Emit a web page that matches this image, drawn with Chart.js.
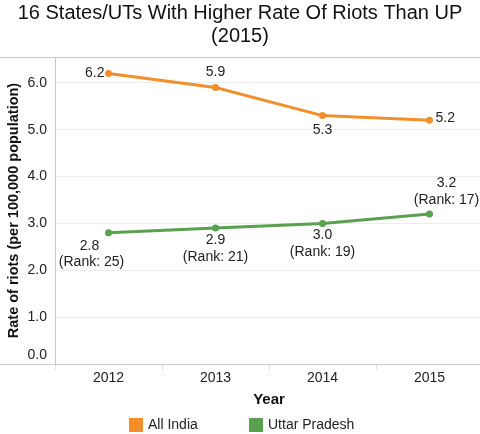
<!DOCTYPE html>
<html>
<head>
    <title>Riots rate: All India vs Uttar Pradesh</title>
    <script src="https://cdn.jsdelivr.net/npm/chart.js"></script>
    <style>
        body { margin: 0; background: #fff; overflow: hidden; }
        /* a bit wider than the window so the plot runs off the right edge like the original */
        #wrap { width: 487px; height: 434px; position: relative; }
    </style>
</head>
<body>
    <div id="wrap"><canvas id="riotChart"></canvas></div>
    <script>
        // data
        var years = ['2012', '2013', '2014', '2015'];
        var allIndia = [6.2, 5.9, 5.3, 5.2];
        var uttarPradesh = [2.8, 2.9, 3.0, 3.2];
        var upRanks = [25, 21, 19, 17];

        // where each value label sits relative to its point
        var indiaLabelPos = ['left', 'above', 'below', 'right'];
        var upLabelPos = ['belowLeft', 'below', 'below', 'aboveRight'];

        var orange = '#F28E2B';
        var green = '#59A14F';
        var fontName = '"Liberation Sans", Arial, sans-serif';
        var lineGray = '#c8c8c8';

        // value labels, frame lines, the lifted 0.0 tick and the legend row
        var labelPlugin = {
            id: 'valueLabels',
            afterDatasetsDraw: function(chart) {
                var ctx = chart.ctx;
                var area = chart.chartArea;
                ctx.save();
                ctx.strokeStyle = lineGray;
                ctx.lineWidth = 1;
                ctx.beginPath();
                ctx.moveTo(0, Math.round(area.top) + 0.5);
                ctx.lineTo(chart.width, Math.round(area.top) + 0.5);
                ctx.moveTo(0, Math.round(area.bottom) + 0.5);
                ctx.lineTo(chart.width, Math.round(area.bottom) + 0.5);
                ctx.stroke();

                ctx.font = '14px ' + fontName;
                ctx.fillStyle = '#222';
                ctx.textBaseline = 'middle';

                // 0.0 sits just above the axis line in the original
                ctx.textAlign = 'right';
                ctx.fillText((0).toFixed(1), area.left - 8, chart.scales.y.getPixelForValue(0) - 9);

                var m0 = chart.getDatasetMeta(0);
                m0.data.forEach(function(pt, i) {
                    var txt = allIndia[i].toFixed(1);
                    var pos = indiaLabelPos[i];
                    if (pos == 'left') {
                        ctx.textAlign = 'right';
                        ctx.fillText(txt, pt.x - 4, pt.y);
                    } else if (pos == 'right') {
                        ctx.textAlign = 'left';
                        ctx.fillText(txt, pt.x + 6, pt.y - 2);
                    } else if (pos == 'above') {
                        ctx.textAlign = 'center';
                        ctx.fillText(txt, pt.x, pt.y - 15);
                    } else {
                        ctx.textAlign = 'center';
                        ctx.fillText(txt, pt.x, pt.y + 15);
                    }
                });

                var m1 = chart.getDatasetMeta(1);
                ctx.textAlign = 'center';
                m1.data.forEach(function(pt, i) {
                    var l1 = uttarPradesh[i].toFixed(1);
                    var l2 = '(Rank: ' + upRanks[i] + ')';
                    var pos = upLabelPos[i];
                    if (pos == 'belowLeft') {
                        ctx.fillText(l1, pt.x - 19, pt.y + 13);
                        ctx.fillText(l2, pt.x - 17, pt.y + 29);
                    } else if (pos == 'aboveRight') {
                        ctx.fillText(l1, pt.x + 17, pt.y - 31);
                        ctx.fillText(l2, pt.x + 17, pt.y - 14);
                    } else {
                        ctx.fillText(l1, pt.x, pt.y + 12);
                        ctx.fillText(l2, pt.x, pt.y + 29);
                    }
                });

                // legend row: square swatch + name, wide gap between items
                var legendY = 425;
                var legendX = [129, 249];
                ctx.textAlign = 'left';
                chart.data.datasets.forEach(function(ds, i) {
                    ctx.fillStyle = ds.borderColor;
                    ctx.fillRect(legendX[i], legendY - 7, 14, 14);
                    ctx.fillStyle = '#222';
                    ctx.fillText(ds.label, legendX[i] + 19, legendY);
                });
                ctx.restore();
            }
        };

        var ctx = document.getElementById('riotChart').getContext('2d');
        new Chart(ctx, {
            type: 'line',
            data: {
                labels: years,
                datasets: [{
                    label: 'All India',
                    data: allIndia,
                    borderColor: orange,
                    backgroundColor: orange,
                    borderWidth: 3,
                    pointRadius: 3.5,
                    pointBorderWidth: 0,
                    fill: false
                }, {
                    label: 'Uttar Pradesh',
                    data: uttarPradesh,
                    borderColor: green,
                    backgroundColor: green,
                    borderWidth: 3,
                    pointRadius: 3.5,
                    pointBorderWidth: 0,
                    fill: false
                }]
            },
            plugins: [labelPlugin],
            options: {
                responsive: true,
                maintainAspectRatio: false,
                animation: false,
                // negative left padding widens the full-size title box, so the title centres on the window
                layout: { padding: { left: -7, right: 0, top: 0, bottom: 20 } },
                plugins: {
                    title: {
                        display: true,
                        text: ['16 States/UTs With Higher Rate Of Riots Than UP', '(2015)'],
                        color: '#111',
                        font: { family: fontName, size: 20, weight: 'normal', lineHeight: 1.15 },
                        padding: { top: 2, bottom: 9 }
                    },
                    legend: { display: false },
                    tooltip: { enabled: false }
                },
                scales: {
                    x: {
                        offset: true,
                        grid: {
                            display: true,
                            drawOnChartArea: false,
                            drawTicks: true,
                            tickLength: 6,
                            color: '#e0e0e0',
                            offset: true
                        },
                        border: { color: lineGray, width: 1 },
                        ticks: {
                            color: '#222',
                            font: { family: fontName, size: 14 },
                            padding: 0
                        },
                        title: {
                            display: true,
                            text: 'Year',
                            color: '#111',
                            font: { family: fontName, size: 15, weight: 'bold' },
                            padding: { top: 0, bottom: 5 }
                        },
                        afterFit: function(scale) { scale.height = 50; }
                    },
                    y: {
                        min: 0,
                        max: 6.55,
                        ticks: {
                            stepSize: 1,
                            includeBounds: false,
                            padding: 8,
                            color: '#222',
                            font: { family: fontName, size: 14 },
                            callback: function(v) { return v === 0 ? '' : v.toFixed(1); }
                        },
                        grid: { color: '#ececec', drawTicks: false },
                        border: { color: lineGray, width: 1 },
                        title: {
                            display: true,
                            text: 'Rate of riots (per 100,000 population)',
                            color: '#111',
                            font: { family: fontName, size: 14.5, weight: 'bold' },
                            padding: { top: 12, bottom: 0 }
                        },
                        afterFit: function(scale) { scale.width = 62; }
                    }
                }
            }
        });
    </script>
</body>
</html>
